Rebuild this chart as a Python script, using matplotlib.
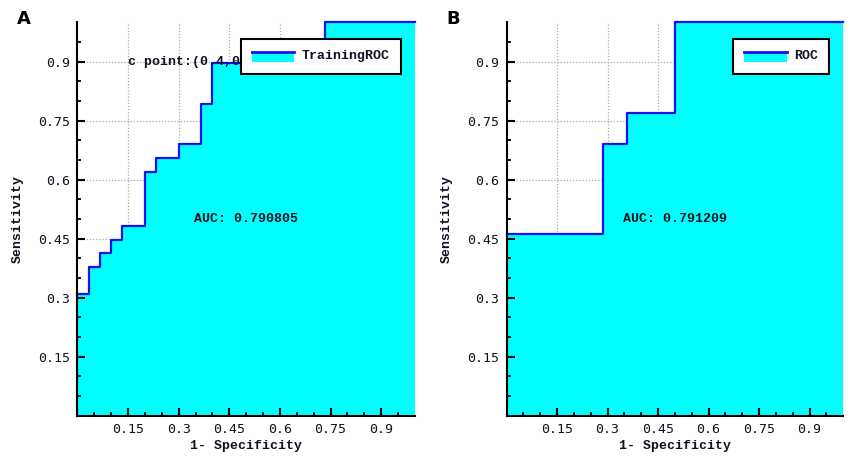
import matplotlib
matplotlib.use("Agg")
import matplotlib.pyplot as plt
from matplotlib.legend_handler import HandlerBase
from matplotlib.patches import Rectangle
from matplotlib.lines import Line2D

# ---------------- data ----------------
fpr_a = [0.0, 0.033, 0.067, 0.100, 0.133, 0.200, 0.233, 0.300, 0.367, 0.400, 0.600, 0.733, 1.0]
tpr_a = [0.310, 0.379, 0.414, 0.448, 0.483, 0.621, 0.655, 0.690, 0.793, 0.897, 0.931, 1.0, 1.0]
fpr_b = [0.0, 0.286, 0.357, 0.500, 1.0]
tpr_b = [0.462, 0.692, 0.769, 1.0, 1.0]
auc_a = "AUC: 0.790805"
auc_b = "AUC: 0.791209"
cpoint_a = "c point:(0.4,0.897)"
legend_a = "TrainingROC"
legend_b = "ROC"
major_ticks = [0.15, 0.3, 0.45, 0.6, 0.75, 0.9]
tick_labels = ["0.15", "0.3", "0.45", "0.6", "0.75", "0.9"]
minor_ticks = [0.05, 0.1, 0.2, 0.25, 0.35, 0.4, 0.5, 0.55, 0.65, 0.7, 0.8, 0.85, 0.95]

CYAN = "#00FFFF"
BLUE = "#1010F0"
TXT = "#111122"
MONO = "Liberation Mono"
TICKF = "DejaVu Sans Mono"


class FillLineHandler(HandlerBase):
    def create_artists(self, legend, orig_handle, xdescent, ydescent,
                       width, height, fontsize, trans):
        x0, y0 = -xdescent, -ydescent - 0.3 * height
        r = Rectangle((x0, y0), width, height * 1.1, facecolor=CYAN,
                      edgecolor="none", transform=trans)
        l = Line2D([x0, x0 + width], [y0 + height * 1.1, y0 + height * 1.1],
                   color=BLUE, lw=2.0, transform=trans)
        return [r, l]


fig = plt.figure(figsize=(8.5, 4.61), dpi=100)
fig.patch.set_facecolor("white")

axA = fig.add_axes([0.0911, 0.0983, 0.3971, 0.8529])
axB = fig.add_axes([0.5959, 0.0983, 0.3962, 0.8529])


def draw(ax, fpr, tpr, auc, label, letter, cpoint=None):
    ax.set_xlim(0, 1)
    ax.set_ylim(0, 1)
    # grid (below the filled area)
    ax.vlines(major_ticks, 0, 1, colors="#aaaaaa", linestyles=(0, (1, 1.5)),
              linewidth=0.9, zorder=0.5)
    ax.hlines(major_ticks, 0, 1, colors="#aaaaaa", linestyles=(0, (1, 1.5)),
              linewidth=0.9, zorder=0.5)
    fill = ax.fill_between(fpr, tpr, 0, step="post", color=CYAN,
                           linewidth=0, zorder=1)
    ax.plot(fpr, tpr, drawstyle="steps-post", color=BLUE, lw=1.6,
            zorder=2, clip_on=False)
    for s in ("top", "right"):
        ax.spines[s].set_visible(False)
    for s in ("left", "bottom"):
        ax.spines[s].set_linewidth(1.5)
        ax.spines[s].set_color("black")
        ax.spines[s].set_zorder(3)
    ax.set_xticks(major_ticks)
    ax.set_xticklabels(tick_labels)
    ax.set_yticks(major_ticks)
    ax.set_yticklabels(tick_labels)
    ax.set_xticks(minor_ticks, minor=True)
    ax.set_yticks(minor_ticks, minor=True)
    ax.tick_params(which="major", direction="in", length=6, width=1.5,
                   color="black", labelsize=9.5, pad=5)
    ax.tick_params(which="minor", direction="in", length=3, width=1.3,
                   color="black")
    for t in ax.get_xticklabels() + ax.get_yticklabels():
        t.set_fontfamily(TICKF)
        t.set_color(TXT)
    ax.set_xlabel("1- Specificity", fontfamily=MONO, fontweight="bold",
                  fontsize=9.5, color=TXT)
    ax.set_ylabel("Sensitivity", fontfamily=MONO, fontweight="bold",
                  fontsize=9.5, color=TXT)
    ax.xaxis.set_label_coords(0.5, -0.062)
    ax.yaxis.set_label_coords(-0.16, 0.5)
    ax.text(0.5, 0.5, auc, fontfamily=MONO, fontweight="bold", fontsize=9.5,
            color=TXT, ha="center", va="center", zorder=3)
    if cpoint:
        ax.text(0.149, 0.9, cpoint, fontfamily=MONO, fontweight="bold",
                fontsize=9.5, color=TXT, ha="left", va="center", zorder=3)
    ax.text(-0.158, 1.01, letter, transform=ax.transAxes, fontsize=13,
            fontweight="bold", fontfamily="DejaVu Sans", ha="center",
            va="center")
    leg = ax.legend([fill], [label], loc="upper right",
                    bbox_to_anchor=(0.958, 0.958), borderaxespad=0,
                    handler_map={type(fill): FillLineHandler()},
                    handlelength=3.2, handletextpad=0.55, borderpad=0.85,
                    fancybox=False, framealpha=1, edgecolor="black",
                    prop={"family": MONO, "weight": "bold", "size": 9.5})
    leg.get_frame().set_linewidth(1.5)
    leg.set_zorder(5)
    for t in leg.get_texts():
        t.set_color(TXT)


draw(axA, fpr_a, tpr_a, auc_a, legend_a, "A", cpoint=cpoint_a)
draw(axB, fpr_b, tpr_b, auc_b, legend_b, "B")

fig.savefig("out.png", dpi=100, facecolor="white")
